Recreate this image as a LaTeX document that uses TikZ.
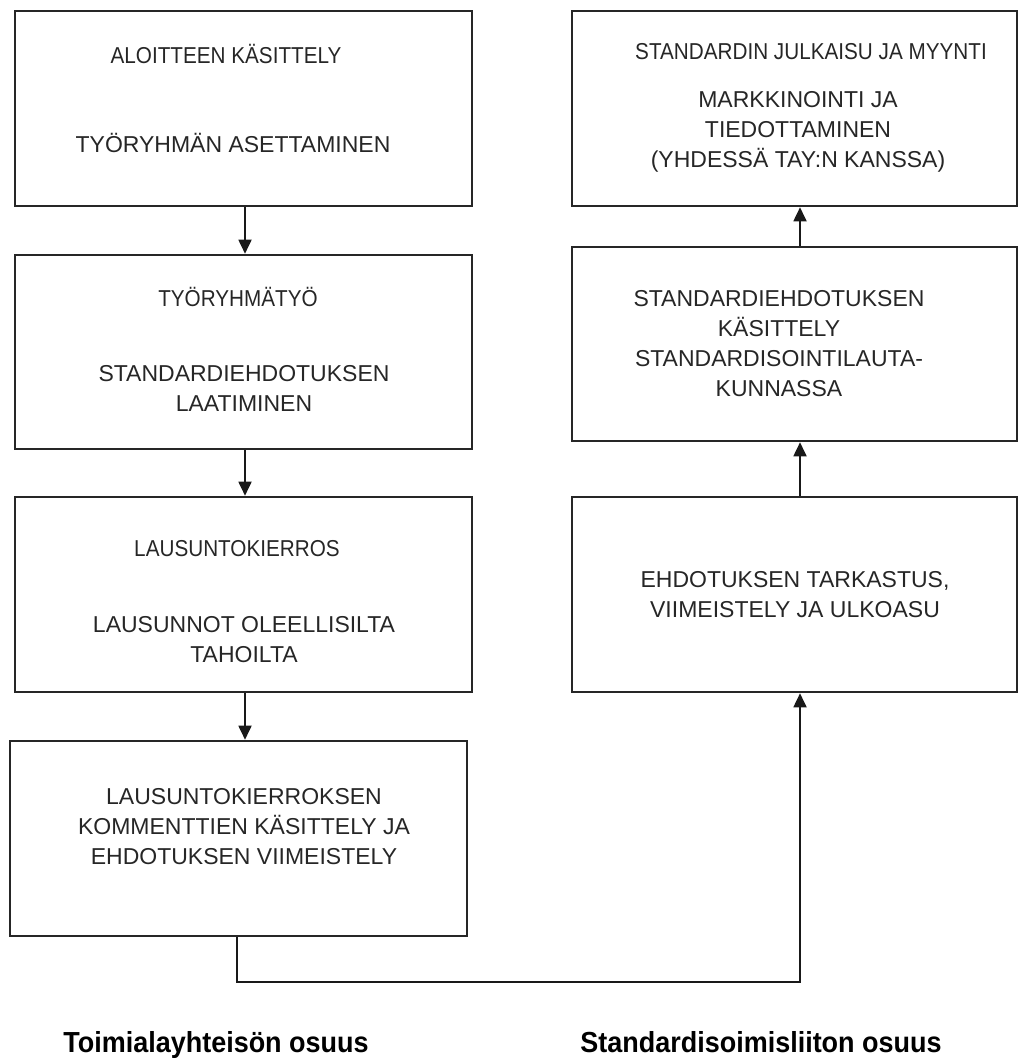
\documentclass[tikz,border=0pt]{standalone}
\usepackage{fontspec}
\setmainfont{Liberation Sans}
\newfontfamily\narrowfont[FakeStretch=0.9]{Liberation Sans}
\newfontfamily\labelfont[FakeStretch=0.93]{Liberation Sans}
\usetikzlibrary{arrows.meta}
\begin{document}
\begin{tikzpicture}[x=0.5pt,y=-0.5pt,
  box/.style={draw=black!85,line width=1.3pt,rectangle,inner sep=0pt,minimum width=228.5pt,minimum height=97.5pt},
  rbox/.style={box,minimum width=222.5pt},
  title/.style={font=\narrowfont\fontsize{11.5pt}{15pt}\selectfont,text=black!85,inner sep=0pt},
  body/.style={font=\fontsize{11.5pt}{15pt}\selectfont,text=black!85,align=center,inner sep=0pt},
  lab/.style={font=\labelfont\bfseries\fontsize{14.5pt}{16pt}\selectfont,inner sep=0pt,anchor=base},
  arr/.style={line width=0.9pt,draw=black!90,-{Triangle[length=7pt,width=6.5pt]}}]
\useasboundingbox (0,0) rectangle (1019,1063);
% left column
\node[box] (L1) at (243.5,108.5) {};
\node[box,minimum height=97pt] (L2) at (243.5,352) {};
\node[box] (L3) at (243.5,594.5) {};
\node[box] (L4) at (238.5,838.5) {};
% right column
\node[rbox] (R1) at (794.5,108.5) {};
\node[rbox,minimum height=97pt] (R2) at (794.5,344) {};
\node[rbox] (R3) at (794.5,594.5) {};
% texts
\node[title] (t1) at (226,54) {ALOITTEEN KÄSITTELY};
\node[body] (b1) at (233,143) {TYÖRYHMÄN ASETTAMINEN};
\node[title] (t2) at (238,297) {TYÖRYHMÄTYÖ};
\node[body] (b2) at (244,388) {STANDARDIEHDOTUKSEN\\LAATIMINEN};
\node[title] (t3) at (237,549) {LAUSUNTOKIERROS};
\node[body] (b3) at (244,640) {LAUSUNNOT OLEELLISILTA\\TAHOILTA};
\node[body] (b4) at (244,827) {LAUSUNTOKIERROKSEN\\KOMMENTTIEN KÄSITTELY JA\\EHDOTUKSEN VIIMEISTELY};
\node[title] (t5) at (811,52) {STANDARDIN JULKAISU JA MYYNTI};
\node[body] (b5) at (798,132) {MARKKINOINTI JA\\TIEDOTTAMINEN\\(YHDESSÄ TAY:N KANSSA)};
\node[body] (b6) at (779,344) {STANDARDIEHDOTUKSEN\\KÄSITTELY\\STANDARDISOINTILAUTA-\\KUNNASSA};
\node[body] (b7) at (795,595) {EHDOTUKSEN TARKASTUS,\\VIIMEISTELY JA ULKOASU};
% bottom labels
\node[lab] (lab1) at (216,1052) {Toimialayhteisön osuus};
\node[lab] (lab2) at (761,1052) {Standardisoimisliiton osuus};
% connectors
\draw[arr] ([xshift=0.75pt]L1.south) -- ([xshift=0.75pt]L2.north);
\draw[arr] ([xshift=0.75pt]L2.south) -- ([xshift=0.75pt]L3.north);
\coordinate (a3) at ([xshift=0.75pt]L3.south);
\draw[arr] (a3) -- (a3 |- L4.north);
\draw[arr] ([xshift=2.75pt]R3.north) -- ([xshift=2.75pt]R2.south);
\draw[arr] ([xshift=2.75pt]R2.north) -- ([xshift=2.75pt]R1.south);
\draw[arr] ([xshift=-0.75pt]L4.south) -- ++(0,45) -| ([xshift=2.75pt]R3.south);
\end{tikzpicture}
\end{document}
